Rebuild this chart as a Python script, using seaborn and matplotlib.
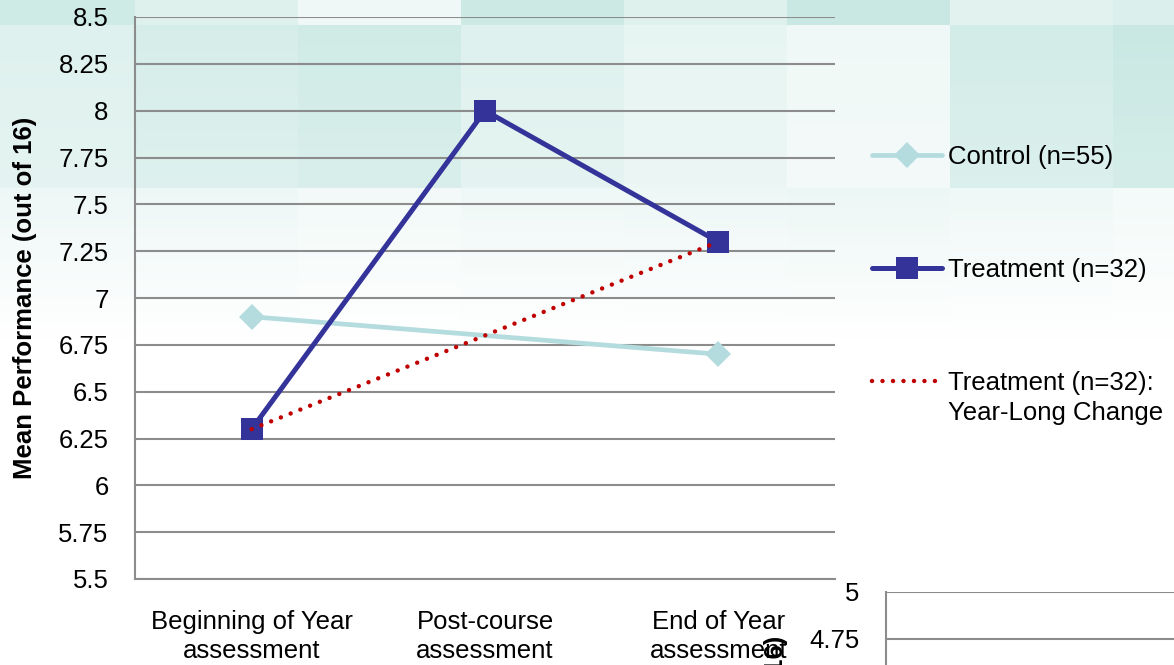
import numpy as np
import pandas as pd
import matplotlib
matplotlib.use("Agg")
import matplotlib.pyplot as plt
import seaborn as sns

# ---- data ---------------------------------------------------------------
categories = ["Beginning of Year\nassessment", "Post-course\nassessment", "End of Year\nassessment"]
control = [6.9, None, 6.7]
treatment = [6.3, 8.0, 7.3]
year_long = [6.3, None, 7.3]
series_labels = ["Control (n=55)", "Treatment (n=32)", "Treatment (n=32):"]
series_label_extra = "Year-Long Change"
y_ticks = [5.5, 5.75, 6, 6.25, 6.5, 6.75, 7, 7.25, 7.5, 7.75, 8, 8.25, 8.5]
y_tick_labels = ["5.5", "5.75", "6", "6.25", "6.5", "6.75", "7", "7.25", "7.5", "7.75", "8", "8.25", "8.5"]
lower_ticks = [2.5, 2.75, 3, 3.25, 3.5, 3.75, 4, 4.25, 4.5, 4.75, 5]
lower_tick_labels = ["2.5", "2.75", "3", "3.25", "3.5", "3.75", "4", "4.25", "4.5", "4.75", "5"]
y_label = "Mean Performance (out of 16)"

# shading of the tiled backdrop (rows x columns, 0 = white, 1 = full teal)
tile_shade = np.array([
    [0.80, 0.55, 0.25, 0.85, 0.55, 0.90, 0.50, 0.60],
    [0.55, 0.70, 0.80, 0.55, 0.40, 0.25, 0.75, 0.90],
    [0.30, 0.30, 0.22, 0.28, 0.30, 0.32, 0.28, 0.20],
])

# ---- style --------------------------------------------------------------
sns.set_style("white")
plt.rcParams["font.family"] = ["Liberation Sans", "DejaVu Sans"]
plt.rcParams["text.color"] = "black"
plt.rcParams["axes.labelcolor"] = "black"
plt.rcParams["xtick.color"] = "black"
plt.rcParams["ytick.color"] = "black"
FS = 18.5
GRID = "#8c8c8c"

W, H = 1174, 665
fig = plt.figure(figsize=(W / 100, H / 100), dpi=100)

# tiled teal backdrop fading to white
yy, xx = np.mgrid[0:H, 0:W]
col = np.clip((xx + 28) // 163, 0, tile_shade.shape[1] - 1)
row = np.where(yy < 25, 0, np.where(yy < 188, 1, 2))
shade = tile_shade[row, col]
fade = np.ones_like(shade)
fade = np.where(row == 1, 1 - 0.2 * (yy - 25) / 163, fade)
fade = np.where(row == 2, np.clip(1 - (yy - 188) / 150, 0, 1), fade)
alpha = (shade * fade)[..., None]
base = np.array([196, 230, 224]) / 255
img = 1 - alpha * (1 - base)
bg = fig.add_axes([0, 0, 1, 1], zorder=-10)
bg.imshow(img, extent=(0, W, H, 0), aspect="auto", interpolation="bilinear")
bg.axis("off")

# ---- main chart ---------------------------------------------------------
ax = fig.add_axes([135 / W, (H - 579) / H, 700 / W, 562 / H])
ax.set_facecolor("none")


def frame(values, name):
    rows = [(i, v) for i, v in enumerate(values) if v is not None]
    return pd.DataFrame({"pos": [r[0] for r in rows], "score": [r[1] for r in rows], "series": name})


df_c = frame(control, series_labels[0])
df_t = frame(treatment, series_labels[1])
df_y = frame(year_long, series_labels[2])

sns.lineplot(data=df_c, x="pos", y="score", ax=ax, color="#b4dcdf", linewidth=3.4,
             marker="D", markersize=13, markeredgewidth=0, label=series_labels[0], zorder=3)
sns.lineplot(data=df_t, x="pos", y="score", ax=ax, color="#333399", linewidth=3.6,
             marker="s", markersize=15.5, markeredgewidth=0, label=series_labels[1], zorder=4)
sns.lineplot(data=df_y, x="pos", y="score", ax=ax, color="#c00000", linewidth=3.2,
             linestyle=(0, (0.01, 2.35)), dash_capstyle="round", label=series_labels[2], zorder=5)

ax.set_xlim(-0.5, 2.5)
ax.set_ylim(5.5, 8.5)
ax.set_xticks(range(len(categories)), labels=categories, fontsize=FS, linespacing=1.3)
ax.set_yticks(y_ticks, labels=y_tick_labels, fontsize=FS)
ax.tick_params(axis="both", length=0)
ax.tick_params(axis="y", pad=19)
ax.tick_params(axis="x", pad=22)
ax.set_xlabel("")
ax.set_ylabel(y_label, fontsize=FS, fontweight="bold")
ax.yaxis.set_label_coords(-0.14, 0.5)
ax.grid(axis="y", color=GRID, linewidth=1.5)
ax.set_axisbelow(True)
for side in ("top", "right"):
    ax.spines[side].set_visible(False)
for side in ("left", "bottom"):
    ax.spines[side].set_color(GRID)
    ax.spines[side].set_linewidth(1.5)

handles, labels = ax.get_legend_handles_labels()
leg = ax.legend(handles, labels, loc="upper left", bbox_to_anchor=(862 / W, 1 - 135 / H),
                bbox_transform=fig.transFigure, frameon=False, fontsize=FS,
                handlelength=2.7, handletextpad=0.25, labelspacing=3.45, borderaxespad=0)
# second line of the last legend entry, hanging under its first line
ax.annotate(series_label_extra, xy=(0, 0), xycoords=leg.get_texts()[2],
            xytext=(0, -6), textcoords="offset pixels", ha="left", va="top",
            fontsize=FS, zorder=20, annotation_clip=False)

# ---- neighbouring chart peeking in at the lower right -------------------
ax2 = fig.add_axes([886 / W, (H - 592 - 468) / H, 700 / W, 468 / H])
ax2.set_facecolor("none")
ax2.set_xlim(0, 1)
ax2.set_ylim(2.5, 5.0)
ax2.set_yticks(lower_ticks, labels=lower_tick_labels, fontsize=FS)
ax2.set_xticks([])
ax2.tick_params(axis="y", length=0, pad=19)
ax2.grid(axis="y", color=GRID, linewidth=1.5)
ax2.set_ylabel(y_label, fontsize=FS, fontweight="bold")
ax2.yaxis.set_label_coords(-0.14, 0.52)
for side in ("top", "right", "bottom"):
    ax2.spines[side].set_visible(False)
ax2.spines["left"].set_color(GRID)
ax2.spines["left"].set_linewidth(1.5)

fig.savefig("out.png", dpi=100)
